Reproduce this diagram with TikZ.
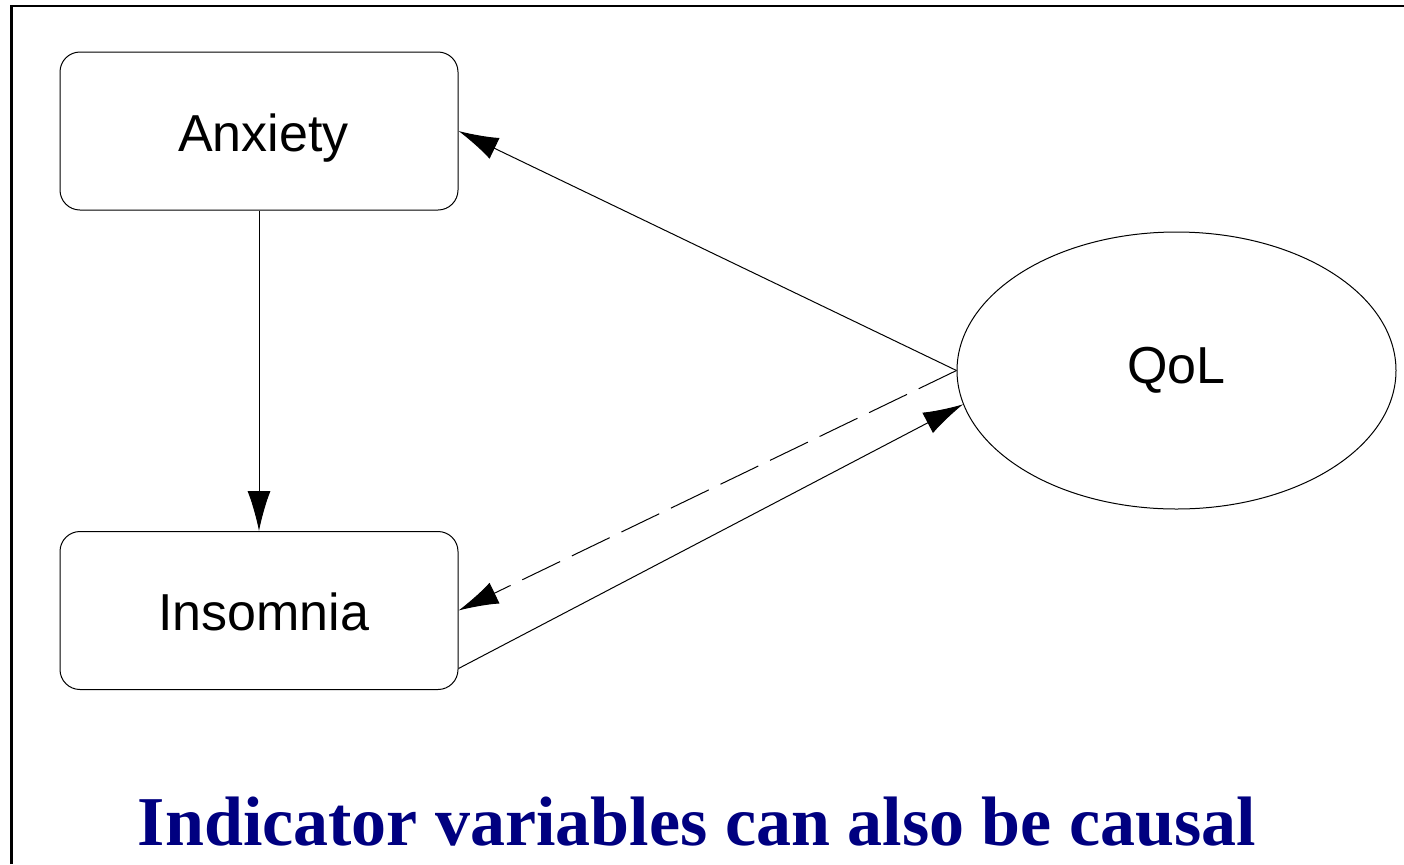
\documentclass[tikz,border=0pt]{standalone}
\usepackage{fontspec}
\setmainfont{Liberation Serif}
\setsansfont{Liberation Sans}
\usetikzlibrary{arrows.meta,shapes.geometric}
\definecolor{titleblue}{RGB}{0,0,128}
\begin{document}
\begin{tikzpicture}[x=0.5pt, y=-0.5pt,
        varbox/.style={draw, line width=0.5pt, rounded corners=10pt, minimum width=199pt, minimum height=79pt, inner sep=0pt, text height=25pt, text depth=5pt, execute at begin node={\hspace*{4.5pt}}, font=\sffamily\fontsize{26}{30}\selectfont},
        latent/.style={draw, ellipse, line width=0.5pt, minimum width=219.5pt, minimum height=138.5pt, inner sep=0pt, font=\sffamily\fontsize{26}{30}\selectfont},
        link/.style={line width=0.5pt, -{Latex[length=20pt, width=11.5pt]}}]
        % Page size and frame
        \useasboundingbox (0,0) rectangle (1404,864);
        \draw[line width=1.4pt] (11.5,864) -- (11.5,6) -- (1404,6);

        % Variables
        \node[varbox] (anx) at (259,131) {Anxiety};
        \node[varbox] (ins) at (259,610.5) {Insomnia};
        \node[latent] (qol) at (1176.5,370.5) {QoL};

        % Paths
        \draw[link] (anx.south) -- (ins.north);
        \draw[link] (qol.west) -- (anx.east);
        \draw[link, dash pattern=on 21pt off 6.5pt] (qol.west) -- (ins.east);
        \draw[link] ([yshift=-29pt]ins.east) -- (qol.189);

        % Title
        \node[anchor=base, text=titleblue, font=\bfseries\fontsize{35}{40}\selectfont] (title) at (697,845) {Indicator variables can also be causal};
    \end{tikzpicture}
\end{document}
